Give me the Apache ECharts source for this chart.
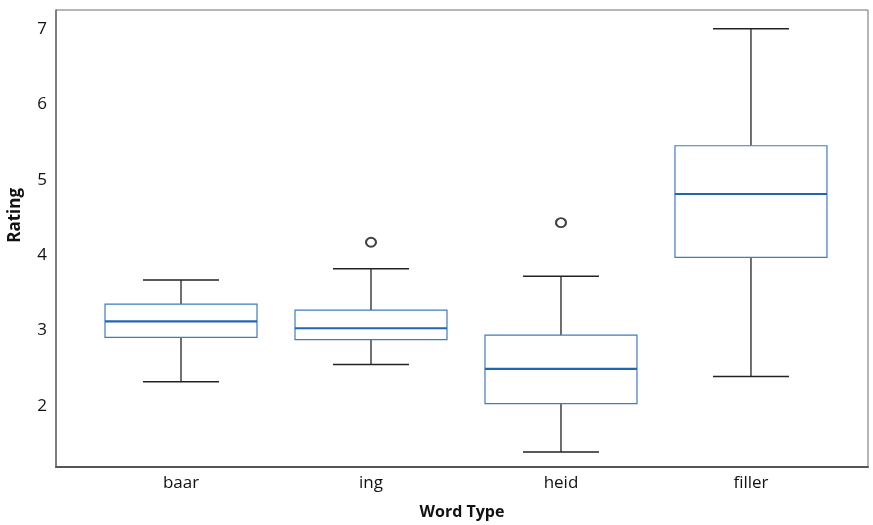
<!DOCTYPE html>
<html>
<head>
<meta charset="utf-8">
<script src="https://cdn.jsdelivr.net/npm/echarts@6/dist/echarts.min.js"></script>
<style>html,body{margin:0;padding:0;background:#fff;}#c{width:873px;height:525px;}</style>
</head>
<body>
<div id="c"></div>
<script>
const categories = ['baar', 'ing', 'heid', 'filler'];
const lowerWhisker = [2.32, 2.55, 1.39, 2.39];
const q1 = [2.91, 2.88, 2.03, 3.97];
const median = [3.12, 3.03, 2.49, 4.81];
const q3 = [3.35, 3.27, 2.94, 5.45];
const upperWhisker = [3.67, 3.82, 3.72, 7.0];
const outlierCategory = [1, 2];
const outlierValue = [4.17, 4.43];
const yTicks = [2, 3, 4, 5, 6, 7];

const boxData = categories.map((c, i) => [i, lowerWhisker[i], q1[i], median[i], q3[i], upperWhisker[i]]);
const outlierData = outlierCategory.map((c, i) => [c, outlierValue[i]]);
const FONT = '"Open Sans", sans-serif';

const chart = echarts.init(document.getElementById('c'));
chart.setOption({
  animation: false,
  grid: { left: 56, right: 5, top: 10, bottom: 55, show: true, borderColor: '#6e6e6e', borderWidth: 1, backgroundColor: 'transparent' },
  xAxis: {
    type: 'value', min: -0.658, max: 3.616,
    axisLine: { show: true, onZero: false, lineStyle: { color: '#555', width: 2 } },
    axisTick: { show: false },
    splitLine: { show: false },
    axisLabel: { customValues: [0, 1, 2, 3], formatter: v => categories[Math.round(v)] || '', color: '#111', fontSize: 17, fontFamily: FONT, margin: 8 },
    name: 'Word Type', nameLocation: 'middle', nameGap: 37,
    nameTextStyle: { fontWeight: 'bold', fontSize: 16, color: '#111', fontFamily: FONT }
  },
  yAxis: {
    type: 'value', min: 1.19, max: 7.25,
    axisLine: { show: true, onZero: false, lineStyle: { color: '#6e6e6e', width: 1.5 } },
    axisTick: { show: false },
    splitLine: { show: false },
    axisLabel: { customValues: yTicks, color: '#111', fontSize: 17, fontFamily: FONT, margin: 9 }
  },
  graphic: [{
    type: 'text', left: 7, top: 188, rotation: Math.PI / 2,
    style: { text: 'Rating', fill: '#111', font: 'bold 17px "Open Sans", sans-serif' }
  }],
  series: [{
    type: 'custom',
    data: boxData,
    encode: { x: 0, y: [1, 2, 3, 4, 5] },
    renderItem: function (params, api) {
      const x = api.value(0);
      const lo = api.coord([x, api.value(1)]);
      const b1 = api.coord([x, api.value(2)]);
      const md = api.coord([x, api.value(3)]);
      const b3 = api.coord([x, api.value(4)]);
      const hi = api.coord([x, api.value(5)]);
      const band = api.size([1, 0])[0];
      const bw = band * 0.8;
      const cw = bw / 2;
      const cx = lo[0];
      const whisk = { stroke: '#111', lineWidth: 1.2 };
      return {
        type: 'group',
        children: [
          { type: 'line', shape: { x1: cx, y1: hi[1], x2: cx, y2: b3[1] }, style: whisk },
          { type: 'line', shape: { x1: cx, y1: b1[1], x2: cx, y2: lo[1] }, style: whisk },
          { type: 'line', shape: { x1: cx - cw / 2, y1: hi[1], x2: cx + cw / 2, y2: hi[1] }, style: { stroke: '#222', lineWidth: 1.5 } },
          { type: 'line', shape: { x1: cx - cw / 2, y1: lo[1], x2: cx + cw / 2, y2: lo[1] }, style: { stroke: '#222', lineWidth: 1.5 } },
          { type: 'rect', shape: { x: cx - bw / 2, y: b3[1], width: bw, height: b1[1] - b3[1] }, style: { fill: '#fff', stroke: '#3b7dc4', lineWidth: 1.2 } },
          { type: 'line', shape: { x1: cx - bw / 2, y1: md[1], x2: cx + bw / 2, y2: md[1] }, style: { stroke: '#1f67b0', lineWidth: 2.2 } }
        ]
      };
    }
  }, {
    type: 'scatter',
    data: outlierData,
    symbol: 'emptyCircle',
    symbolSize: [10, 9],
    itemStyle: { color: '#111', borderColor: '#111', borderWidth: 1.6 }
  }]
});
</script>
</body>
</html>
